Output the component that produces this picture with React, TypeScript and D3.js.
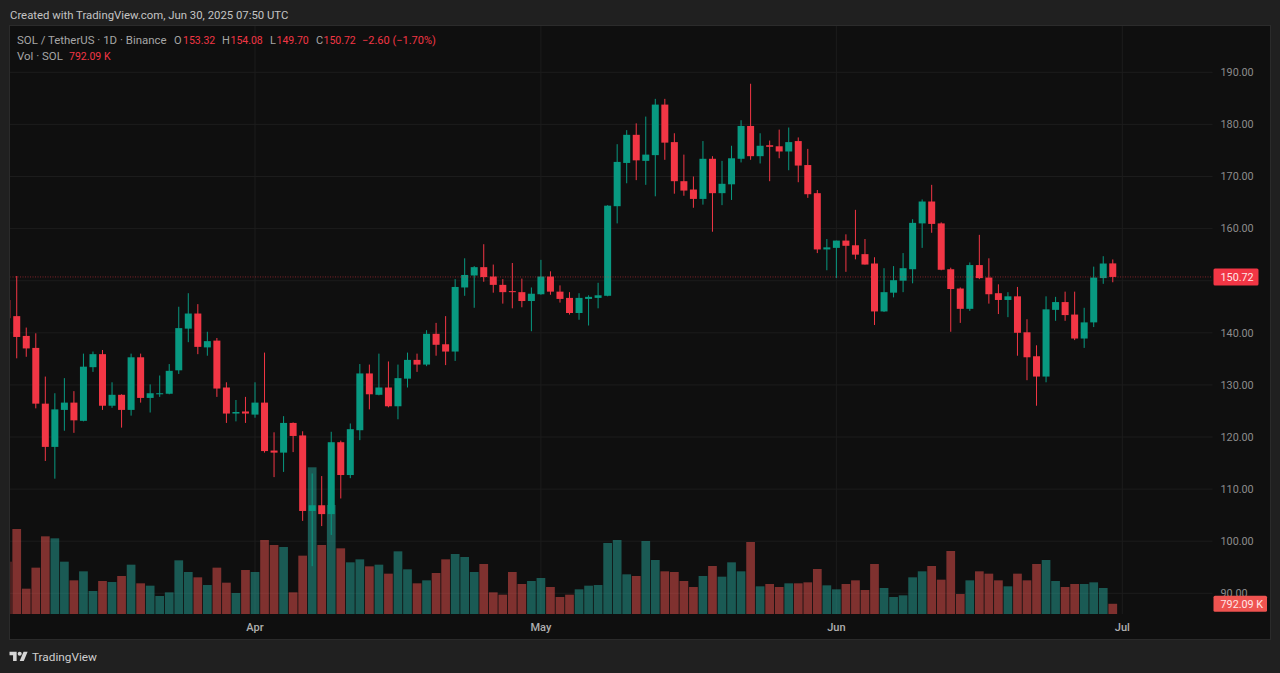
import * as d3 from 'd3';

// daily candles, SOL/USDT, first visible bar is 6 Mar 2025
const firstDay = Date.UTC(2025, 2, 6);

const opens = [
  146.3, 143.2, 139.4, 137.1, 126.4, 118.1, 125.2, 126.6, 123.1, 133.4, 135.9, 126.0, 128.1, 125.2, 135.3, 127.5, 128.2, 128.3, 132.8, 140.8,
  143.7, 137.2, 138.5, 129.5, 124.5, 124.9, 124.3, 126.6, 117.4, 117.0, 122.7, 120.3, 105.8, 106.9, 105.2, 119.0, 112.7, 121.3, 132.2, 128.1,
  129.5, 125.9, 131.2, 134.8, 133.9, 139.8, 137.8, 136.4, 148.7, 151.0, 152.6, 150.8, 149.2, 148.0, 147.8, 146.1, 147.4, 150.8, 147.9, 146.7,
  143.8, 146.5, 146.7, 147.1, 164.3, 172.6, 178.0, 173.0, 174.1, 183.8, 176.6, 169.1, 167.5, 165.7, 173.4, 166.8, 168.5, 173.4, 179.7, 173.9,
  176.0, 175.8, 174.8, 176.8, 172.2, 166.8, 156.0, 156.3, 157.7, 156.8, 155.1, 153.3, 144.1, 147.7, 150.0, 152.2, 161.0, 165.2, 161.0, 152.2,
  148.5, 144.6, 153.0, 150.6, 147.6, 146.3, 147.0, 140.1, 135.5, 131.6, 144.4, 145.9, 143.5, 138.9, 142.0, 150.5, 153.32,
];
const highs = [
  147.0, 150.9, 141.0, 139.9, 131.6, 128.4, 131.3, 128.8, 136.0, 136.4, 136.7, 130.5, 128.2, 136.0, 136.0, 130.1, 131.8, 134.0, 145.0, 147.6,
  145.5, 140.2, 139.0, 130.5, 127.1, 127.7, 130.5, 136.2, 120.9, 124.0, 122.8, 121.1, 113.0, 112.5, 121.0, 119.3, 122.6, 134.0, 133.9, 136.0,
  134.5, 133.9, 136.2, 136.0, 140.5, 141.9, 143.2, 150.3, 154.3, 152.8, 157.0, 153.1, 150.3, 153.4, 150.4, 148.7, 154.0, 151.8, 149.1, 147.8,
  147.6, 147.2, 149.6, 164.5, 176.2, 178.9, 180.2, 181.5, 184.9, 184.9, 178.3, 174.2, 170.0, 176.8, 173.9, 173.0, 175.9, 180.8, 187.8, 178.3,
  176.9, 179.0, 179.4, 177.5, 175.3, 167.4, 158.0, 157.7, 158.9, 163.6, 158.0, 154.5, 152.4, 152.8, 155.3, 161.8, 165.6, 168.4, 161.2, 152.5,
  148.7, 153.5, 158.8, 154.3, 149.3, 147.8, 148.8, 142.6, 137.6, 147.0, 146.9, 147.9, 147.9, 144.8, 152.7, 154.7, 154.08,
];
const lows = [
  142.0, 135.1, 135.4, 125.5, 115.4, 112.0, 121.2, 120.8, 123.0, 132.5, 125.2, 125.6, 121.8, 124.1, 126.6, 124.7, 127.7, 128.2, 132.1, 138.2,
  135.9, 135.6, 127.7, 122.7, 123.0, 122.7, 123.7, 117.0, 112.3, 113.3, 117.1, 103.9, 95.2, 102.9, 101.2, 108.2, 112.1, 119.4, 125.3, 128.0,
  125.7, 123.4, 129.5, 132.5, 133.6, 135.6, 133.8, 134.6, 147.1, 144.8, 149.8, 147.7, 145.6, 144.7, 144.9, 140.3, 147.3, 147.3, 145.8, 143.5,
  142.5, 141.4, 144.7, 147.0, 161.0, 168.7, 169.3, 168.4, 166.2, 173.2, 166.7, 166.3, 164.0, 164.6, 159.4, 164.5, 165.5, 172.7, 173.2, 172.5,
  169.1, 173.5, 171.2, 168.9, 165.9, 155.3, 152.0, 150.5, 151.7, 154.1, 153.1, 141.5, 144.0, 146.8, 147.8, 149.5, 156.3, 159.2, 152.0, 140.2,
  141.9, 144.2, 150.3, 145.6, 143.6, 143.0, 135.6, 130.9, 126.0, 130.5, 142.3, 142.3, 138.6, 137.1, 141.1, 149.4, 149.7,
];
const closes = [
  142.8, 139.2, 137.0, 126.4, 118.1, 125.3, 126.6, 123.2, 133.5, 135.9, 126.0, 128.1, 125.2, 135.3, 127.5, 128.4, 128.4, 132.7, 140.9, 143.7,
  137.3, 138.4, 129.3, 124.5, 124.8, 124.5, 126.6, 117.3, 117.0, 122.7, 120.2, 105.8, 106.9, 105.2, 119.0, 112.7, 121.5, 132.2, 128.2, 129.5,
  125.9, 131.3, 134.8, 133.9, 139.8, 137.7, 136.4, 148.8, 151.1, 152.6, 150.7, 149.2, 147.8, 147.8, 146.1, 147.5, 150.8, 147.9, 146.5, 143.8,
  146.7, 146.9, 147.2, 164.4, 172.8, 178.0, 173.1, 174.2, 183.8, 176.5, 169.1, 167.3, 165.7, 173.4, 166.8, 168.6, 173.5, 179.7, 173.9, 175.9,
  175.7, 174.8, 176.6, 172.1, 166.6, 156.0, 156.4, 157.7, 156.7, 155.0, 153.1, 144.1, 147.8, 150.1, 152.4, 161.1, 165.2, 160.9, 152.1, 148.4,
  144.6, 153.0, 150.5, 147.4, 146.3, 147.0, 140.0, 135.3, 131.6, 144.5, 145.9, 143.4, 138.9, 142.0, 150.6, 153.3, 150.72,
];
// volume in thousands of SOL
const volumes = [
  4060, 6595, 1965, 3595, 6026, 5871, 4060, 2611, 3310, 1784, 2560, 2482, 2948, 3827, 2379, 2198, 1396, 1680, 4164, 3258,
  2844, 2249, 3595, 2430, 1628, 3413, 3258, 5742, 5354, 5199, 1680, 4526, 11381, 5354, 8458, 5095, 4008, 4241, 3698, 3827,
  3129, 4862, 3465, 2379, 2611, 3181, 4241, 4655, 4422, 3258, 3879, 1680, 1499, 3258, 2327, 2560, 2793, 2094, 1318, 1499,
  1913, 2198, 2249, 5509, 5742, 3077, 2948, 5664, 4190, 3310, 3258, 2560, 2094, 2948, 3724, 2896, 4008, 3310, 5587, 2146,
  2327, 2094, 2379, 2379, 2456, 3491, 2223, 1913, 2327, 2611, 1861, 3879, 2017, 1318, 1447, 2844, 3310, 3724, 2663, 4888,
  1551, 2611, 3310, 3129, 2611, 2146, 3129, 2611, 3879, 4190, 2560, 2094, 2327, 2327, 2456, 2017, 792.09,
];

const priceTicks = [90, 100, 110, 120, 130, 140, 150, 160, 170, 180, 190];
const hiddenPriceLabels = [150]; // covered by the last price tag
const monthTicks = [
  { label: 'Apr', date: Date.UTC(2025, 3, 1) },
  { label: 'May', date: Date.UTC(2025, 4, 1) },
  { label: 'Jun', date: Date.UTC(2025, 5, 1) },
  { label: 'Jul', date: Date.UTC(2025, 6, 1) },
];
const lastPrice = 150.72;
const lastVolumeLabel = '792.09 K';

const legendParts = [
  { text: 'O', at: 174, red: false, size: 11 },
  { text: '153.32', at: 183, red: true, size: 10.5 },
  { text: 'H', at: 222, red: false, size: 11 },
  { text: '154.08', at: 230.5, red: true, size: 10.5 },
  { text: 'L', at: 270, red: false, size: 11 },
  { text: '149.70', at: 276.5, red: true, size: 10.5 },
  { text: 'C', at: 316, red: false, size: 11 },
  { text: '150.72', at: 323.5, red: true, size: 10.5 },
  { text: '−2.60 (−1.70%)', at: 362, red: true, size: 11 },
];

const UP = '#089981';
const DOWN = '#F23645';
const FONT = 'Roboto, "Noto Sans", sans-serif';

const pane = { left: 10, right: 1270, top: 26, bottom: 639, axisX: 1212.5, timeY: 614 };

const x = d3
  .scaleUtc()
  .domain([firstDay, Date.UTC(2025, 6, 1)])
  .range([7.2, 1122.3]);
const y = d3.scaleLinear().domain([90, 190]).range([593.3, 72.3]);
const yVol = d3.scaleLinear().domain([0, 11381]).range([pane.timeY, 467.3]);

const days = opens.map((_, i) => d3.utcDay.offset(new Date(firstDay), i).getTime());

export default function App() {
  const bodyW = 7;
  const volW = 8.7;

  return (
    <div style={{ position: 'fixed', left: 0, top: 0 }}>
      <svg width={1280} height={673} style={{ display: 'block', fontFamily: FONT }}>
        <defs>
          <clipPath id="plot">
            <rect x={pane.left + 0.5} y={pane.top} width={pane.axisX - pane.left} height={pane.timeY - pane.top} />
          </clipPath>
        </defs>

        <rect width={1280} height={673} fill="#202020" />
        <rect
          x={pane.left - 0.5}
          y={pane.top - 0.5}
          width={pane.right - pane.left + 1}
          height={pane.bottom - pane.top + 1}
          fill="#0F0F0F"
          stroke="#2B2B2B"
        />

        {/* grid */}
        {priceTicks.map((t) => (
          <line key={t} x1={pane.left} x2={pane.axisX} y1={y(t)} y2={y(t)} stroke="#1C1C1C" />
        ))}
        {monthTicks.map((m) => (
          <line key={m.label} x1={x(m.date)} x2={x(m.date)} y1={pane.top} y2={pane.timeY} stroke="#1C1C1C" />
        ))}

        <g clipPath="url(#plot)">
          {/* volume sits behind the candles */}
          {volumes.map((v, i) => (
            <rect
              key={i}
              x={x(days[i]) - volW / 2}
              y={yVol(v)}
              width={volW}
              height={yVol(0) - yVol(v)}
              fill={closes[i] >= opens[i] ? '#26A69A' : '#EF5350'}
              fillOpacity={0.5}
            />
          ))}

          {opens.map((o, i) => {
            const c = closes[i];
            const color = c >= o ? UP : DOWN;
            const cx = x(days[i]);
            const top = y(Math.max(o, c));
            const bot = y(Math.min(o, c));
            return (
              <g key={i}>
                <line x1={cx} x2={cx} y1={y(highs[i])} y2={y(lows[i])} stroke={color} strokeWidth={1} />
                <rect x={cx - bodyW / 2} y={top} width={bodyW} height={Math.max(bot - top, 1)} fill={color} />
              </g>
            );
          })}

          <line
            x1={pane.left}
            x2={pane.axisX}
            y1={y(lastPrice)}
            y2={y(lastPrice)}
            stroke={DOWN}
            strokeOpacity={0.5}
            strokeDasharray="1 1.5"
          />
        </g>

        {/* price axis */}
        {priceTicks
          .filter((t) => !hiddenPriceLabels.includes(t))
          .map((t) => (
            <text key={t} x={1220.5} y={y(t)} dy="0.36em" fontSize={10.8} fill="#8C8C8C">
              {t.toFixed(2)}
            </text>
          ))}
        <rect x={1213.5} y={y(lastPrice) - 8.5} width={45} height={17} rx={1.5} fill={DOWN} />
        <text x={1220.5} y={y(lastPrice)} dy="0.36em" fontSize={10.8} fill="#FFE5E7">
          {lastPrice.toFixed(2)}
        </text>
        <rect x={1213.5} y={yVol(792.09) - 8} width={53.5} height={16} rx={1.5} fill="#EF5350" />
        <text x={1220.5} y={yVol(792.09)} dy="0.36em" fontSize={10.8} fill="#FFE5E7">
          {lastVolumeLabel}
        </text>

        {/* time axis */}
        {monthTicks.map((m) => (
          <text key={m.label} x={x(m.date)} y={631} textAnchor="middle" fontSize={11} fontWeight={500} fill="#B0B0B0">
            {m.label}
          </text>
        ))}

        {/* header and legend */}
        <text x={10} y={19} fontSize={11.35} fill="#C4C4C4">
          Created with TradingView.com, Jun 30, 2025 07:50 UTC
        </text>
        <text x={17} y={44} fontSize={11.45} fill="#A6A6A6">
          SOL / TetherUS · 1D · Binance
        </text>
        {legendParts.map((p) => (
          <text key={p.at} x={p.at} y={44} fontSize={p.size} fill={p.red ? DOWN : '#A6A6A6'}>
            {p.text}
          </text>
        ))}
        <text x={17} y={60} fontSize={11.45} fill="#A6A6A6">
          Vol · SOL
        </text>
        <text x={69} y={60} fontSize={10.5} fill={DOWN}>
          {lastVolumeLabel}
        </text>

        {/* logo */}
        <g transform="translate(9.5,649.7) scale(0.51)" fill="#D6D6D6">
          <path d="M14 22H7V11H0V4h14v18zM28 22h-8l7.5-18h8L28 22z" />
          <circle cx={20} cy={8} r={4} />
        </g>
        <text x={32} y={661} fontSize={11.8} fill="#CFCFCF">
          TradingView
        </text>
      </svg>
    </div>
  );
}
